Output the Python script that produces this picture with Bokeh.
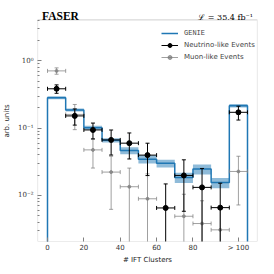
import numpy as np
from bokeh.plotting import figure
from bokeh.models import (Range1d, FixedTicker, CustomJSTickFormatter, Label,
                          Legend, LegendItem, BoxAnnotation)
from bokeh.embed import file_html
from bokeh.resources import INLINE

# ---- data ----
bin_edges = [0, 10, 20, 30, 40, 50, 60, 70, 80, 90, 100, 110]
genie = [0.283, 0.186, 0.1016, 0.066, 0.0464, 0.0346, 0.030, 0.0185, 0.0246, 0.0155, 0.215]
genie_err = [0.014, 0.0095, 0.007, 0.0046, 0.0056, 0.0048, 0.004, 0.0032, 0.0042, 0.0027, 0.013]
nu = [0.385, 0.152, 0.094, 0.0668, 0.0598, 0.0397, 0.0065, 0.0198, 0.01315, 0.00657, 0.172]
nu_err = [0.055, 0.041, 0.025, 0.027, 0.025, 0.020, 0.0083, 0.014, 0.012, 0.0086, 0.040]
mu = [0.711, 0.16, 0.0475, 0.0222, 0.01345, 0.0089, 0.0, 0.00489, 0.00381, 0.00307, 0.0227]
mu_err = [0.077, 0.065, 0.022, 0.016, 0.012, 0.012, 0.0, 0.0055, 0.0045, 0.0035, 0.0155]
x_ticks = [0, 20, 40, 60, 80, 105]
x_tick_labels = ["0", "20", "40", "60", "80", "> 100"]
y_ticks = [0.01, 0.1, 1.0]
y_minor_ticks = [0.003, 0.004, 0.005, 0.006, 0.007, 0.008, 0.009,
                 0.02, 0.03, 0.04, 0.05, 0.06, 0.07, 0.08, 0.09,
                 0.2, 0.3, 0.4, 0.5, 0.6, 0.7, 0.8, 0.9, 2.0, 3.0, 4.0]

X_MIN, X_MAX = -5.5, 115.5
Y_MIN, Y_MAX = 0.00206, 4.07     # visible axes box
Y_TOP = 7.92                      # room above the box for the header texts

BLUE = "#1f77b4"
GREY = "#808080"
FLOOR = 1e-6

edges = np.array(bin_edges, dtype=float)
centers = 0.5 * (edges[:-1] + edges[1:])
halfw = 0.5 * (edges[1:] - edges[:-1])

p = figure(width=258, height=266, y_axis_type="log",
           x_range=Range1d(X_MIN, X_MAX), y_range=Range1d(Y_MIN, Y_TOP),
           output_backend="svg", toolbar_location=None,
           min_border_left=31, min_border_right=1, min_border_top=0, min_border_bottom=20)
p.grid.visible = False
p.outline_line_color = None
p.background_fill_color = "white"
p.border_fill_color = "white"

# ---- GENIE band + step ----
g = np.array(genie); ge = np.array(genie_err)
p.quad(left=edges[:-1], right=edges[1:], bottom=g - ge, top=g + ge,
       fill_color=BLUE, fill_alpha=0.5, line_color=None)
sx = [edges[0]]; sy = [FLOOR]
for i in range(len(g)):
    sx += [edges[i], edges[i + 1]]
    sy += [g[i], g[i]]
sx.append(edges[-1]); sy.append(FLOOR)
step = p.line(sx, sy, line_color=BLUE, line_width=1.5)


def errorbars(vals, errs, color, alpha, msize):
    v = np.array(vals); e = np.array(errs)
    m = v > 0
    c = centers[m]; hw = halfw[m]; v = v[m]; e = e[m]
    lo = np.where(v - e > 0, v - e, FLOOR)
    p.segment(x0=c, y0=lo, x1=c, y1=v + e, line_color=color, line_alpha=alpha, line_width=1)
    hs = p.segment(x0=c - hw, y0=v, x1=c + hw, y1=v, line_color=color, line_alpha=alpha, line_width=1)
    p.scatter(x=c, y=v + e, marker="dash", size=4, line_color=color, line_alpha=alpha)
    ok = v - e > 0
    p.scatter(x=c[ok], y=(v - e)[ok], marker="dash", size=4, line_color=color, line_alpha=alpha)
    side = p.scatter(x=np.concatenate([c - hw, c + hw]), y=np.concatenate([v, v]),
                     marker="dash", angle=np.pi / 2, size=4, line_color=color, line_alpha=alpha)
    mk = p.scatter(x=c, y=v, marker="circle", size=msize, fill_color=color, line_color=color,
                   fill_alpha=alpha, line_alpha=alpha)
    return [hs, side, mk]


mu_r = errorbars(mu, mu_err, GREY, 0.75, 3)
nu_r = errorbars(nu, nu_err, "black", 1.0, 5)

# white cover above the axes box, then the box itself
p.add_layout(BoxAnnotation(bottom=Y_MAX, fill_color="white", fill_alpha=1.0, line_color=None))
p.add_layout(BoxAnnotation(left=X_MIN, right=X_MAX, bottom=Y_MIN, top=Y_MAX,
                           fill_alpha=0, line_color=GREY, line_width=1.2))

# ---- axes ----
p.xaxis.ticker = FixedTicker(ticks=x_ticks, minor_ticks=[])
p.xaxis.major_label_overrides = {t: l for t, l in zip(x_ticks, x_tick_labels)}
p.yaxis.ticker = FixedTicker(ticks=y_ticks, minor_ticks=y_minor_ticks)
p.xaxis.axis_label = "# IFT Clusters"
p.yaxis.axis_label = "arb. units"
p.yaxis.formatter = CustomJSTickFormatter(code="""
const e = Math.round(Math.log10(tick));
const sup = {'-':'\u207b','0':'\u2070','1':'\u00b9','2':'\u00b2','3':'\u00b3','4':'\u2074','5':'\u2075','6':'\u2076','7':'\u2077','8':'\u2078','9':'\u2079'};
return '10' + String(e).split('').map(ch => sup[ch]).join('');
""")
for ax in (p.xaxis, p.yaxis):
    ax.axis_line_color = None
    ax.major_tick_line_color = GREY
    ax.minor_tick_line_color = GREY
    ax.major_tick_in = 4
    ax.major_tick_out = 0
    ax.minor_tick_in = 2
    ax.minor_tick_out = 0
    ax.major_label_text_font_size = "7px"
    ax.axis_label_text_font_size = "7px"
    ax.axis_label_text_font_style = "normal"
    ax.axis_label_text_font = "DejaVu Sans"
    ax.major_label_text_color = "#333333"
    ax.axis_label_text_color = "#222222"
    ax.major_label_text_line_height = 1.0
    ax.axis_label_text_line_height = 1.0
p.xaxis.major_label_standoff = 2
p.xaxis.axis_label_standoff = 1
p.yaxis.major_label_standoff = 4
p.yaxis.axis_label_standoff = 4
p.xaxis.major_label_text_font = "DejaVu Sans"
p.yaxis.major_label_text_font = "DejaVu Serif"

# ---- legends ----
leg1 = Legend(items=[LegendItem(label="GENIE", renderers=[step])],
              location=(124, 203), label_text_font="Liberation Mono",
              label_text_font_size="7px", glyph_width=17, glyph_height=10,
              label_height=10, label_standoff=6, spacing=1, padding=0, margin=0,
              border_line_color=None, background_fill_alpha=0)
leg2 = Legend(items=[LegendItem(label="Neutrino-like Events", renderers=nu_r),
                     LegendItem(label="Muon-like Events", renderers=mu_r)],
              location=(124, 179), label_text_font="DejaVu Sans",
              label_text_font_size="7px", glyph_width=17, glyph_height=10,
              label_height=10, label_standoff=6, spacing=2, padding=0, margin=0,
              border_line_color=None, background_fill_alpha=0)
p.add_layout(leg1)
p.add_layout(leg2)

# ---- header texts ----
p.add_layout(Label(x=-3, y=4.59, text="FASER", text_font="Liberation Serif",
                   text_font_style="bold", text_font_size="11.5px",
                   text_baseline="alphabetic", text_color="black"))
p.add_layout(Label(x=113, y=4.44, text="\u2112 = 35.4 fb\u207b\u00b9", text_font="DejaVu Serif",
                   text_font_size="8px", text_align="right",
                   text_baseline="alphabetic", text_color="black"))

open("out.html", "w").write(file_html(p, INLINE))
